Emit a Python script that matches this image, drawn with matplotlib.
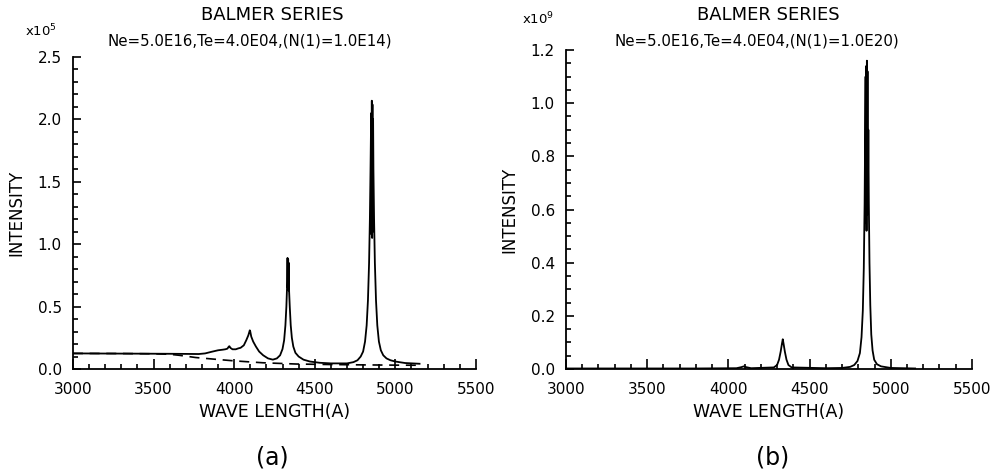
import matplotlib
matplotlib.use('Agg')
import matplotlib.pyplot as plt
from matplotlib.ticker import MultipleLocator

# (a) N(1)=1.0E14, intensity in units of 1e5
wl_a = [3000, 3200, 3400, 3600, 3700, 3780, 3820, 3860, 3900, 3930, 3945, 3958,
        3966, 3970, 3978, 3990, 4010, 4025, 4040, 4060, 4075, 4088, 4097, 4100,
        4106, 4118, 4135, 4155, 4180, 4210, 4240, 4265, 4285, 4300, 4310, 4318,
        4324, 4328, 4331, 4333, 4335, 4337, 4339, 4341, 4345, 4351, 4358, 4367,
        4380, 4400, 4430, 4470, 4530, 4600, 4700, 4740, 4765, 4785, 4800, 4812,
        4822, 4830, 4837, 4842, 4846, 4850, 4852, 4854, 4856, 4858, 4860, 4862,
        4864, 4868, 4873, 4880, 4888, 4898, 4910, 4925, 4945, 4970, 5000, 5060,
        5150]
int_a = [0.125, 0.124, 0.123, 0.122, 0.121, 0.120, 0.125, 0.138, 0.150, 0.155, 0.158, 0.163,
         0.178, 0.183, 0.168, 0.158, 0.158, 0.165, 0.170, 0.190, 0.230, 0.270, 0.310, 0.300,
         0.260, 0.220, 0.180, 0.140, 0.110, 0.085, 0.075, 0.085, 0.110, 0.160, 0.230, 0.350,
         0.500, 0.650, 0.890, 0.650, 0.880, 0.630, 0.850, 0.620, 0.500, 0.350, 0.250, 0.180,
         0.130, 0.100, 0.075, 0.060, 0.050, 0.045, 0.045, 0.055, 0.070, 0.100, 0.140, 0.220,
         0.350, 0.550, 0.850, 1.200, 1.600, 2.050, 1.080, 2.150, 1.050, 2.120, 1.100, 2.000,
         1.600, 1.200, 0.850, 0.550, 0.350, 0.220, 0.150, 0.110, 0.085, 0.070, 0.060, 0.048,
         0.042]

# dashed continuum of (a)
wl_a_cont = [3000, 3300, 3500, 3600, 3659, 3762, 3866, 3993, 4178, 4384, 4590, 4800, 5000, 5150]
int_a_cont = [0.125, 0.124, 0.122, 0.118, 0.110, 0.092, 0.080, 0.066, 0.050, 0.040, 0.036, 0.033, 0.031, 0.030]

# (b) N(1)=1.0E20, intensity in units of 1e9
wl_b = [3000, 3800, 4050, 4080, 4095, 4110, 4140, 4280, 4300, 4312, 4322, 4330,
        4335, 4340, 4348, 4358, 4370, 4390, 4600, 4700, 4750, 4775, 4795, 4810,
        4820, 4828, 4834, 4839, 4843, 4845, 4847, 4849, 4851, 4853, 4855, 4857,
        4859, 4862, 4865, 4869, 4874, 4880, 4888, 4898, 4915, 4940, 5000, 5150]
int_b = [0.002, 0.002, 0.003, 0.007, 0.010, 0.007, 0.003, 0.006, 0.015, 0.035, 0.065, 0.095,
         0.112, 0.095, 0.065, 0.035, 0.015, 0.006, 0.003, 0.004, 0.008, 0.015, 0.030, 0.060,
         0.120, 0.220, 0.380, 0.620, 0.950, 1.100, 0.550, 1.140, 0.520, 1.160, 0.580, 1.120,
         0.600, 0.900, 0.620, 0.400, 0.240, 0.130, 0.070, 0.035, 0.018, 0.010, 0.004, 0.002]

font = 'DejaVu Sans'
plt.rcParams['font.family'] = font

fig = plt.figure(figsize=(9.98, 4.72), dpi=100)


def style_axes(ax, ymax, ymajor, yminor):
    ax.set_xlim(3000, 5500)
    ax.set_ylim(0, ymax)
    for side in ['top', 'right']:
        ax.spines[side].set_visible(False)
    for side in ['left', 'bottom']:
        ax.spines[side].set_linewidth(1.3)
    ax.xaxis.set_major_locator(MultipleLocator(500))
    ax.xaxis.set_minor_locator(MultipleLocator(100))
    ax.yaxis.set_major_locator(MultipleLocator(ymajor))
    ax.yaxis.set_minor_locator(MultipleLocator(yminor))
    ax.tick_params(axis='both', which='both', direction='in', width=1.2, labelsize=11)
    ax.tick_params(axis='x', which='major', length=7, pad=9)
    ax.tick_params(axis='x', which='minor', length=3.5)
    ax.tick_params(axis='y', which='major', length=6, pad=8)
    ax.tick_params(axis='y', which='minor', length=3.5)
    ax.yaxis.set_major_formatter(plt.FormatStrFormatter('%.1f'))
    ax.set_xlabel('WAVE LENGTH(A)', fontsize=12.5, labelpad=5)
    ax.set_ylabel('INTENSITY', fontsize=12, labelpad=9)


# Панель (a)
ax1 = fig.add_axes([0.0731, 0.2182, 0.4038, 0.6610])
ax1.plot(wl_a, int_a, color='black', lw=1.3)
ax1.plot(wl_a_cont, int_a_cont, color='black', lw=1.2, linestyle=(0, (6, 4)))
style_axes(ax1, 2.5, 0.5, 0.1)
fig.text(0.273, 0.968, 'BALMER SERIES', ha='center', va='center', fontsize=13)
fig.text(0.250, 0.913, 'Ne=5.0E16,Te=4.0E04,(N(1)=1.0E14)', ha='center', va='center', fontsize=10.8)
fig.text(0.025, 0.935, 'x10$^5$', ha='left', va='center', fontsize=9.5)
fig.text(0.273, 0.031, '(a)', ha='center', va='center', fontsize=17)

# Панель (b)
ax2 = fig.add_axes([0.5671, 0.2182, 0.4068, 0.6758])
ax2.plot(wl_b, int_b, color='black', lw=1.3)
style_axes(ax2, 1.2, 0.2, 0.05)
fig.text(0.770, 0.968, 'BALMER SERIES', ha='center', va='center', fontsize=13)
fig.text(0.758, 0.913, 'Ne=5.0E16,Te=4.0E04,(N(1)=1.0E20)', ha='center', va='center', fontsize=10.8)
fig.text(0.523, 0.960, 'x10$^9$', ha='left', va='center', fontsize=9.5)
fig.text(0.774, 0.031, '(b)', ha='center', va='center', fontsize=17)

fig.savefig('out.png', dpi=100)
